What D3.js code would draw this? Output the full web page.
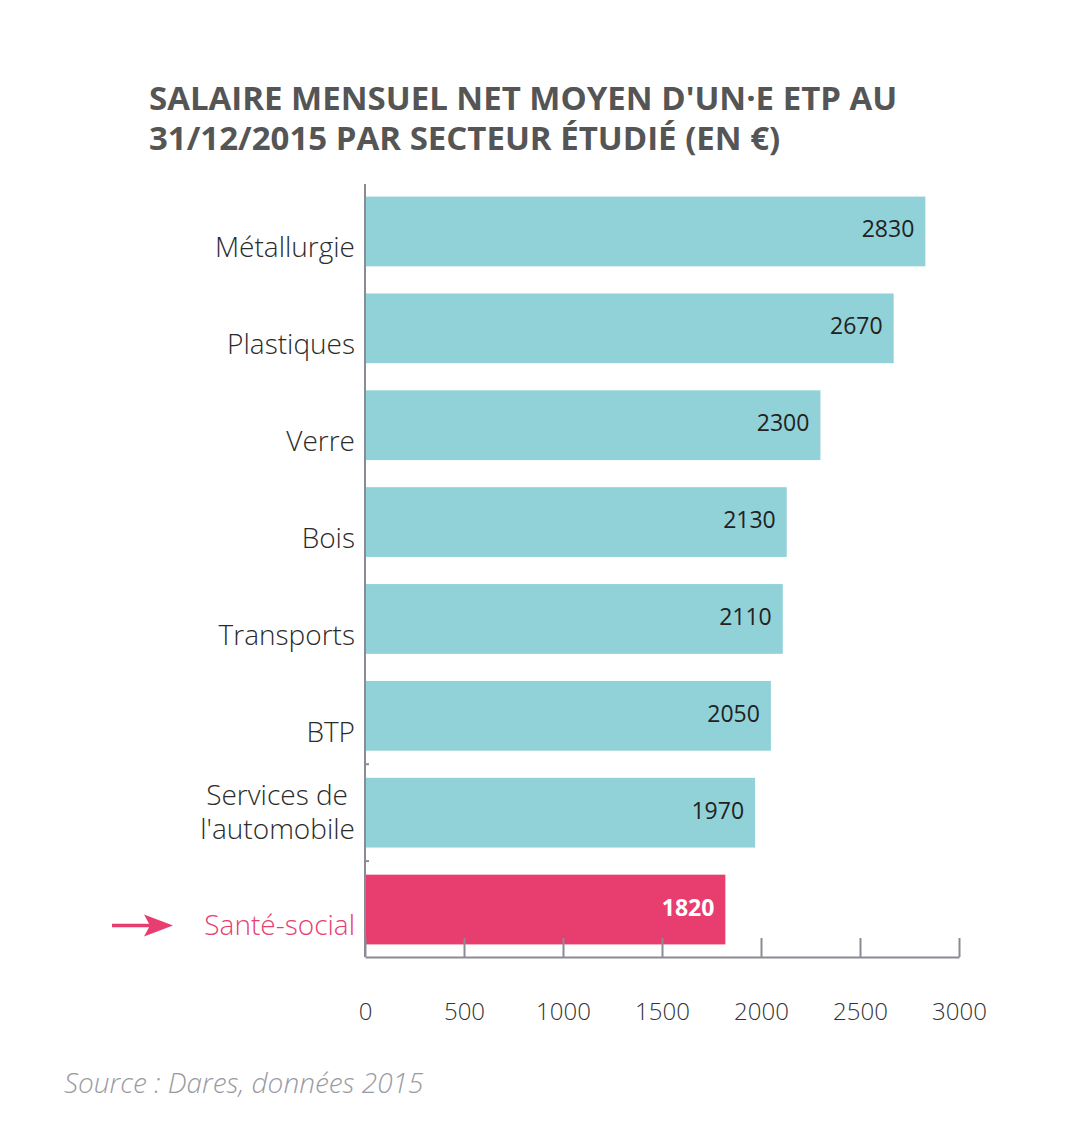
<!DOCTYPE html>
<html lang="fr">
<head>
<meta charset="UTF-8">
<title>Salaire mensuel net moyen</title>
<style>
	body { margin: 0; background: #fff; }
	svg text { font-family: "Open Sans", Lato, sans-serif; }
	.title { font-size: 33px; font-weight: bold; fill: #555; }
	.cat { font-size: 28px; fill: #2b2b2b; font-weight: 300; }
	.val { font-size: 23px; fill: #222; }
	.tick text { font-size: 24px; fill: #333; font-weight: 300; }
	.source { font-size: 28px; font-style: italic; fill: #9a9aa2; font-weight: 300; }
</style>
</head>
<body>
<svg></svg>
<script src="https://cdnjs.cloudflare.com/ajax/libs/d3/7.8.5/d3.min.js"></script>
<script>
const width = 1079, height = 1148;

// data
const sectors = ['Métallurgie', 'Plastiques', 'Verre', 'Bois', 'Transports', 'BTP', "Services de\nl'automobile", 'Santé-social'];
const salaries = [2830, 2670, 2300, 2130, 2110, 2050, 1970, 1820];
const xTicks = [0, 500, 1000, 1500, 2000, 2500, 3000];
const highlight = 'Santé-social';

const teal = '#91d1d8', pink = '#e83e6f', axisCol = '#8b8b96';

const svg = d3.select('svg').attr('width', width).attr('height', height);

svg.append('text').attr('class', 'title').attr('x', 149).attr('y', 110)
	.text("SALAIRE MENSUEL NET MOYEN D'UN·E ETP AU");
svg.append('text').attr('class', 'title').attr('x', 149).attr('y', 150)
	.text('31/12/2015 PAR SECTEUR ÉTUDIÉ (EN €)');

const x = d3.scaleLinear().domain([0, 3000]).range([365, 959]);
const y = d3.scaleBand().domain(sectors).range([184, 957])
	.paddingInner(0.28).paddingOuter(0.13);

const rows = sectors.map((s, i) => ({ name: s, value: salaries[i] }));

// bars
svg.selectAll('rect.bar').data(rows).enter().append('rect')
	.attr('class', 'bar')
	.attr('x', x(0))
	.attr('y', d => y(d.name))
	.attr('width', d => x(d.value) - x(0))
	.attr('height', y.bandwidth())
	.attr('fill', d => d.name === highlight ? pink : teal);

// value labels
svg.selectAll('text.val').data(rows).enter().append('text')
	.attr('class', 'val')
	.attr('x', d => x(d.value) - 11)
	.attr('y', d => y(d.name) + y.bandwidth() / 2 + 6)
	.attr('text-anchor', 'end')
	.style('fill', d => d.name === highlight ? '#fff' : null)
	.style('font-weight', d => d.name === highlight ? 'bold' : null)
	.text(d => d.value);

// category labels, sitting low in the band
const cats = svg.selectAll('text.cat').data(rows).enter().append('text')
	.attr('class', 'cat')
	.attr('text-anchor', 'end')
	.attr('y', d => y(d.name) + y.bandwidth() - 9)
	.style('fill', d => d.name === highlight ? pink : null);
cats.each(function(d) {
	const lines = d.name.split('\n');
	const t = d3.select(this);
	lines.forEach((l, i) => {
		t.append('tspan').attr('x', i === 0 && lines.length > 1 ? 348 : 355)
			.attr('dy', i === 0 ? (lines.length > 1 ? -34 : 0) : 34)
			.text(l);
	});
});

// arrow pointing to highlighted sector
const ay = y(highlight) + y.bandwidth() - 19;
svg.append('line').attr('x1', 112).attr('x2', 150).attr('y1', ay).attr('y2', ay)
	.attr('stroke', pink).attr('stroke-width', 3.5);
svg.append('path')
	.attr('d', `M173,${ay} L144,${ay - 11} L150,${ay} L144,${ay + 11} Z`)
	.attr('fill', pink);

// x axis: ticks pointing up, labels well below
const xAxis = d3.axisBottom(x).tickValues(xTicks).tickFormat(d3.format('d'))
	.tickSizeInner(-19).tickSizeOuter(0).tickPadding(0);
const gx = svg.append('g').attr('transform', 'translate(0,957)').call(xAxis);
gx.select('.domain').attr('stroke', axisCol).attr('stroke-width', 2);
gx.selectAll('.tick line').attr('stroke', axisCol).attr('stroke-width', 2);
gx.selectAll('.tick text').attr('y', 63).attr('dy', 0).attr('fill', '#333')
	.attr('font-family', null).attr('font-size', null);

// y axis line
svg.append('line').attr('x1', x(0)).attr('x2', x(0)).attr('y1', 184).attr('y2', 957)
	.attr('stroke', axisCol).attr('stroke-width', 2);
// small ticks between the last bands
const step = y.step();
sectors.slice(-2).forEach(s => {
	const ty = y(s) - (step - y.bandwidth()) / 2;
	svg.append('line').attr('x1', x(0)).attr('x2', x(0) + 4).attr('y1', ty).attr('y2', ty)
		.attr('stroke', axisCol).attr('stroke-width', 2);
});

svg.append('text').attr('class', 'source').attr('x', 64).attr('y', 1093)
	.text('Source : Dares, données 2015');
</script>
</body>
</html>
